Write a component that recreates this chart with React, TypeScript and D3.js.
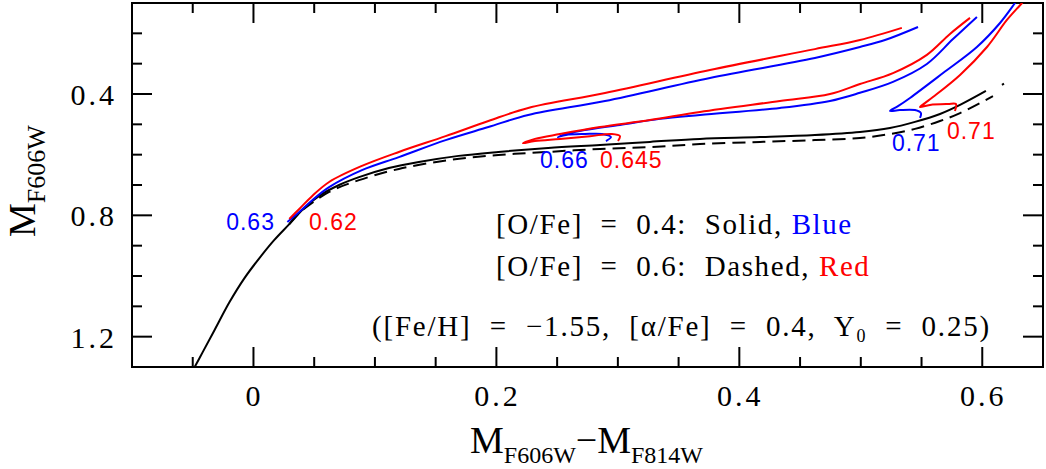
import React, { useEffect, useRef } from 'react'
import * as d3 from 'd3'

type Pt = [number, number]

// axis ticks: colour (x) and magnitude (y)
const colorMajor = [0, 0.2, 0.4, 0.6]
const colorMinor = [-0.05, 0.05, 0.1, 0.15, 0.25, 0.3, 0.35, 0.45, 0.5, 0.55]
const magMajor = [0.4, 0.8, 1.2]
const magMinor = [0.2, 0.3, 0.5, 0.6, 0.7, 0.9, 1.0, 1.1]

// ZAHB loci, [colour, magnitude]
const zahbSolid: Pt[] = [
  [-0.0484, 1.3], [-0.0418, 1.251], [-0.032, 1.178], [-0.0197, 1.086], [-0.0074, 1.007],
  [0.0049, 0.941], [0.0172, 0.881], [0.0295, 0.829], [0.0418, 0.776], [0.0541, 0.736],
  [0.0705, 0.7], [0.0869, 0.674], [0.1115, 0.644], [0.1361, 0.624], [0.1689, 0.604],
  [0.2016, 0.591], [0.2426, 0.578], [0.2853, 0.568], [0.3264, 0.558], [0.3676, 0.548],
  [0.417, 0.542], [0.4622, 0.535], [0.4993, 0.525], [0.524, 0.512], [0.5446, 0.492],
  [0.5652, 0.466], [0.5817, 0.436], [0.603, 0.39],
]
const zahbDashed: Pt[] = [
  [0.0295, 0.829], [0.0377, 0.792], [0.0623, 0.723], [0.0869, 0.684], [0.1197, 0.647],
  [0.1607, 0.618], [0.2016, 0.601], [0.2426, 0.591], [0.2853, 0.581], [0.3264, 0.575],
  [0.3676, 0.565], [0.417, 0.558], [0.4622, 0.552], [0.4993, 0.545], [0.524, 0.532],
  [0.5446, 0.515], [0.5652, 0.489], [0.5817, 0.463], [0.6088, 0.407],
]
const zahbDashedTail: Pt[] = [[0.6162, 0.37], [0.6179, 0.366]]

// HB tracks, [O/Fe] = 0.4 (blue)
const track063: Pt[] = [
  [0.0279, 0.822], [0.0377, 0.789], [0.0484, 0.75], [0.0623, 0.707], [0.0893, 0.651],
  [0.1197, 0.608], [0.1582, 0.552], [0.1934, 0.509], [0.2262, 0.469], [0.2894, 0.423],
  [0.3758, 0.347], [0.4622, 0.281], [0.4993, 0.245], [0.5199, 0.222], [0.5471, 0.179],
]
const track066: Pt[] = [
  [0.2902, 0.555], [0.2943, 0.542], [0.2869, 0.532], [0.2729, 0.532], [0.2572, 0.535],
  [0.2507, 0.542], [0.2572, 0.532], [0.2729, 0.519], [0.3017, 0.502], [0.3347, 0.482],
  [0.3676, 0.469], [0.4334, 0.446], [0.4746, 0.423], [0.4993, 0.396], [0.5265, 0.36],
  [0.5544, 0.301], [0.5759, 0.219], [0.5956, 0.146],
]
const track071b: Pt[] = [
  [0.5487, 0.479], [0.5495, 0.463], [0.5446, 0.453], [0.5322, 0.453], [0.524, 0.456],
  [0.5306, 0.44], [0.5405, 0.413], [0.5677, 0.331], [0.5956, 0.245], [0.6146, 0.166],
  [0.627, 0.1], [0.6294, 0.087],
]

// HB tracks, [O/Fe] = 0.6 (red)
const track062: Pt[] = [
  [0.0295, 0.812], [0.0377, 0.779], [0.0484, 0.736], [0.0623, 0.69], [0.0893, 0.637],
  [0.1197, 0.591], [0.1582, 0.539], [0.1934, 0.489], [0.2262, 0.446], [0.2894, 0.397],
  [0.3758, 0.321], [0.4622, 0.252], [0.4993, 0.222], [0.5338, 0.182],
]
const track0645: Pt[] = [
  [0.3001, 0.555], [0.3017, 0.539], [0.2951, 0.532], [0.277, 0.539], [0.2523, 0.548],
  [0.2317, 0.555], [0.2219, 0.562], [0.2317, 0.548], [0.2523, 0.532], [0.2853, 0.509],
  [0.3264, 0.486], [0.3676, 0.459], [0.4334, 0.423], [0.4746, 0.4], [0.4993, 0.367],
  [0.5265, 0.331], [0.5544, 0.271], [0.5734, 0.202], [0.5899, 0.149],
]
const track071r: Pt[] = [
  [0.5775, 0.456], [0.5783, 0.433], [0.5718, 0.433], [0.5569, 0.436], [0.5487, 0.443],
  [0.5528, 0.43], [0.5594, 0.41], [0.5817, 0.337], [0.6039, 0.245], [0.6203, 0.156],
  [0.6327, 0.1], [0.6352, 0.087],
]

// mass labels: text, colour, anchor, position [colour, magnitude]
const massLabels: { text: string; fill: string; anchor: string; at: Pt }[] = [
  { text: '0.63', fill: '#0000ff', anchor: 'end', at: [0.0177, 0.848] },
  { text: '0.62', fill: '#ff0000', anchor: 'start', at: [0.0457, 0.848] },
  { text: '0.66', fill: '#0000ff', anchor: 'start', at: [0.2359, 0.644] },
  { text: '0.645', fill: '#ff0000', anchor: 'start', at: [0.2853, 0.644] },
  { text: '0.71', fill: '#0000ff', anchor: 'start', at: [0.5256, 0.588] },
  { text: '0.71', fill: '#ff0000', anchor: 'start', at: [0.5709, 0.549] },
]

const W = 1046
const H = 469
const sp = '\u00a0'

const App = () => {
  const ref = useRef<SVGSVGElement>(null)

  useEffect(() => {
    const svg = d3.select(ref.current)
    svg.selectAll('*').remove()

    const x = d3.scaleLinear().domain([-0.1, 0.65]).range([132, 1043])
    const y = d3.scaleLinear().domain([0.1, 1.3]).range([3, 367])
    const [x0, x1] = x.range()
    const [y0, y1] = y.range()

    const serif = '"Liberation Serif", "Times New Roman", serif'
    const sans = '"Liberation Sans", Arial, sans-serif'

    svg.append('clipPath').attr('id', 'plot-clip')
      .append('rect').attr('x', x0).attr('y', y0).attr('width', x1 - x0).attr('height', y1 - y0)

    // ticks on all four sides, pointing inward
    const tickG = svg.append('g').attr('stroke', '#000').attr('stroke-width', 2)
    const addTicks = (vals: number[], len: number) => {
      vals.forEach(v => {
        const px = x(v)
        tickG.append('line').attr('x1', px).attr('x2', px).attr('y1', y1).attr('y2', y1 - len)
        tickG.append('line').attr('x1', px).attr('x2', px).attr('y1', y0).attr('y2', y0 + len)
      })
    }
    const addYTicks = (vals: number[], len: number) => {
      vals.forEach(v => {
        const py = y(v)
        tickG.append('line').attr('x1', x0).attr('x2', x0 + len).attr('y1', py).attr('y2', py)
        tickG.append('line').attr('x1', x1).attr('x2', x1 - len).attr('y1', py).attr('y2', py)
      })
    }
    addTicks(colorMajor, 20)
    addTicks(colorMinor, 10)
    addYTicks(magMajor, 20)
    addYTicks(magMinor, 10)

    svg.append('rect')
      .attr('x', x0).attr('y', y0).attr('width', x1 - x0).attr('height', y1 - y0)
      .attr('fill', 'none').attr('stroke', '#000').attr('stroke-width', 2)

    // tick labels
    svg.append('g').selectAll('text').data(colorMajor).join('text')
      .attr('x', d => x(d) + 1).attr('y', 406)
      .attr('text-anchor', 'middle')
      .style('font-family', serif).style('font-size', '30px').style('letter-spacing', '3px')
      .text(d => (d === 0 ? '0' : d3.format('.1f')(d)))
    svg.append('g').selectAll('text').data(magMajor).join('text')
      .attr('x', 117).attr('y', d => y(d) + 11)
      .attr('text-anchor', 'end')
      .style('font-family', serif).style('font-size', '30px').style('letter-spacing', '3px')
      .text(d => d3.format('.1f')(d))

    // curves
    const line = d3.line<Pt>()
      .x(d => x(d[0]))
      .y(d => y(d[1]))
      .curve(d3.curveCatmullRom.alpha(0.5))
    const curves = svg.append('g').attr('clip-path', 'url(#plot-clip)')
      .attr('fill', 'none').attr('stroke-width', 2).attr('stroke-linejoin', 'round')
    const draw = (pts: Pt[], color: string, dash?: string) => {
      const p = curves.append('path').attr('d', line(pts)).attr('stroke', color)
      if (dash) p.attr('stroke-dasharray', dash)
    }
    draw(zahbDashed, '#000', '13,7')
    draw(zahbDashedTail, '#000')
    draw(zahbSolid, '#000')
    draw(track063, '#0000ff')
    draw(track066, '#0000ff')
    draw(track071b, '#0000ff')
    draw(track062, '#ff0000')
    draw(track0645, '#ff0000')
    draw(track071r, '#ff0000')

    // mass labels
    svg.append('g').selectAll('text').data(massLabels).join('text')
      .attr('x', d => x(d.at[0])).attr('y', d => y(d.at[1]))
      .attr('text-anchor', d => d.anchor)
      .attr('fill', d => d.fill)
      .style('font-family', sans).style('font-size', '23px').style('letter-spacing', '1px')
      .text(d => d.text)

    // legend
    const legend = svg.append('g')
      .style('font-family', serif).style('font-size', '29px')
      .style('letter-spacing', '1.6px')
    const l1 = legend.append('text').attr('x', 496).attr('y', 234)
    l1.append('tspan').text(`[O/Fe]${sp} =${sp} 0.4:${sp} Solid, `)
    l1.append('tspan').attr('fill', '#0000ff').text('Blue')
    const l2 = legend.append('text').attr('x', 496).attr('y', 276)
    l2.append('tspan').text(`[O/Fe]${sp} =${sp} 0.6:${sp} Dashed, `)
    l2.append('tspan').attr('fill', '#ff0000').text('Red')
    const l3 = legend.append('text').attr('x', 372).attr('y', 336).style('letter-spacing', '1.8px')
    l3.append('tspan').text(`([Fe/H]${sp} =${sp} \u22121.55,${sp} [\u03b1/Fe]${sp} =${sp} 0.4,${sp} Y`)
    l3.append('tspan').attr('dy', 6).style('font-size', '18px').text('0')
    l3.append('tspan').attr('dy', -6).text(`${sp} =${sp} 0.25)`)

    // axis titles
    const xt = svg.append('text').attr('x', 470).attr('y', 453).style('font-family', serif)
    xt.append('tspan').style('font-size', '38px').text('M')
    xt.append('tspan').attr('dy', 10).style('font-size', '24px').text('F606W')
    xt.append('tspan').attr('dy', -10).style('font-size', '38px').text('\u2212M')
    xt.append('tspan').attr('dy', 10).style('font-size', '24px').text('F814W')

    const yt = svg.append('text').attr('transform', 'translate(35,237) rotate(-90)')
      .style('font-family', serif)
    yt.append('tspan').style('font-size', '38px').text('M')
    yt.append('tspan').attr('dy', 10).style('font-size', '26px').text('F606W')
  }, [])

  return (
    <div style={{ position: 'absolute', left: 0, top: 0 }}>
      <svg ref={ref} width={W} height={H} style={{ display: 'block', background: '#fff' }}></svg>
    </div>
  )
}

export default App
